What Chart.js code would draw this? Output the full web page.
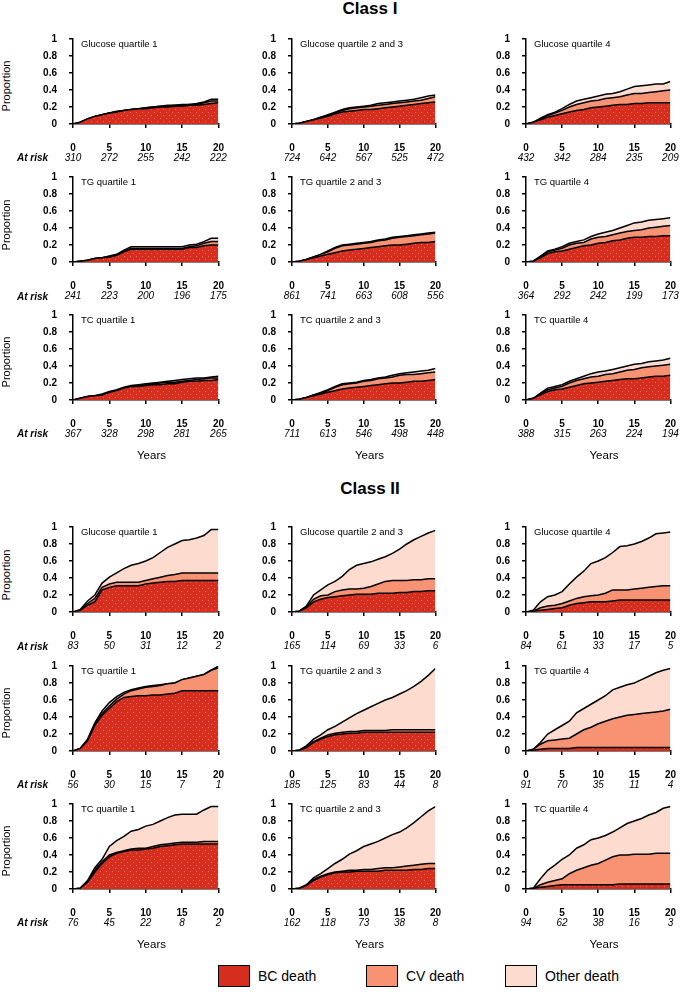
<!DOCTYPE html>
<html>
<head>
<meta charset="utf-8">
<script src="https://cdn.jsdelivr.net/npm/chart.js@4"></script>
<style>
  body { margin: 0; background: #fff; width: 686px; height: 993px; position: relative; overflow: hidden;
         font-family: "Liberation Sans", Arial, sans-serif; color: #000; }
  .txt { position: absolute; white-space: nowrap; }
  canvas { position: absolute; }
  .box { position: absolute; width: 32px; height: 22px; border: 1px solid #000; box-sizing: border-box; }
</style>
</head>
<body>
<script>
// years on the x axis (one step per year)
const years = [0,1,2,3,4,5,6,7,8,9,10,11,12,13,14,15,16,17,18,19,20];
const xTickValues = [0, 5, 10, 15, 20];

const panelTitles = [
  'Glucose quartile 1', 'Glucose quartile 2 and 3', 'Glucose quartile 4',
  'TG quartile 1', 'TG quartile 2 and 3', 'TG quartile 4',
  'TC quartile 1', 'TC quartile 2 and 3', 'TC quartile 4'
];

const legendLabels = ['BC death', 'CV death', 'Other death'];

// numbers at risk under the ticks 0, 5, 10, 15, 20
const classI_atRisk = [
  [310, 272, 255, 242, 222], [724, 642, 567, 525, 472], [432, 342, 284, 235, 209],
  [241, 223, 200, 196, 175], [861, 741, 663, 608, 556], [364, 292, 242, 199, 173],
  [367, 328, 298, 281, 265], [711, 613, 546, 498, 448], [388, 315, 263, 224, 194]
];
const classII_atRisk = [
  [83, 50, 31, 12, 2], [165, 114, 69, 33, 6], [84, 61, 33, 17, 5],
  [56, 30, 15, 7, 1], [185, 125, 83, 44, 8], [91, 70, 35, 11, 4],
  [76, 45, 22, 8, 2], [162, 118, 73, 38, 8], [94, 62, 38, 16, 3]
];

// cumulative proportion, top of the BC band
const classI_BC = [
  [0,0.02,0.06,0.09,0.11,0.13,0.14,0.16,0.17,0.18,0.18,0.19,0.2,0.2,0.21,0.21,0.22,0.22,0.23,0.24,0.25],
  [0,0.01,0.03,0.05,0.07,0.09,0.12,0.14,0.15,0.16,0.17,0.17,0.18,0.19,0.2,0.21,0.22,0.23,0.24,0.25,0.26],
  [0,0.02,0.05,0.08,0.1,0.12,0.14,0.16,0.17,0.19,0.2,0.21,0.22,0.23,0.23,0.24,0.24,0.25,0.25,0.25,0.25],
  [0,0.01,0.02,0.04,0.05,0.06,0.08,0.12,0.15,0.15,0.15,0.15,0.15,0.15,0.15,0.15,0.17,0.17,0.19,0.2,0.2],
  [0,0.01,0.03,0.05,0.07,0.09,0.11,0.13,0.14,0.15,0.16,0.17,0.18,0.19,0.2,0.2,0.21,0.22,0.23,0.23,0.24],
  [0,0.01,0.05,0.1,0.12,0.13,0.15,0.17,0.19,0.2,0.22,0.23,0.25,0.26,0.28,0.29,0.29,0.3,0.3,0.31,0.31],
  [0,0.02,0.04,0.05,0.06,0.09,0.11,0.14,0.16,0.16,0.17,0.18,0.18,0.19,0.19,0.21,0.22,0.22,0.23,0.23,0.24],
  [0,0.01,0.03,0.05,0.07,0.09,0.11,0.13,0.14,0.15,0.16,0.17,0.18,0.19,0.2,0.2,0.21,0.22,0.22,0.23,0.24],
  [0,0.02,0.06,0.1,0.12,0.13,0.15,0.17,0.19,0.2,0.21,0.22,0.23,0.24,0.25,0.25,0.26,0.27,0.28,0.28,0.29]
];
// cumulative proportion, top of the CV band (BC + CV)
const classI_CV = [
  [0,0.02,0.06,0.09,0.11,0.13,0.14,0.16,0.17,0.18,0.19,0.2,0.21,0.21,0.22,0.22,0.23,0.23,0.25,0.27,0.27],
  [0,0.01,0.03,0.05,0.08,0.1,0.13,0.16,0.18,0.19,0.2,0.21,0.22,0.23,0.24,0.25,0.26,0.27,0.28,0.3,0.32],
  [0,0.02,0.06,0.1,0.13,0.16,0.2,0.23,0.25,0.27,0.28,0.3,0.31,0.32,0.34,0.36,0.36,0.37,0.38,0.39,0.4],
  [0,0.01,0.02,0.04,0.05,0.06,0.08,0.13,0.16,0.16,0.16,0.16,0.16,0.16,0.16,0.16,0.18,0.19,0.22,0.24,0.24],
  [0,0.01,0.03,0.06,0.09,0.12,0.16,0.19,0.2,0.21,0.22,0.23,0.25,0.26,0.28,0.29,0.3,0.31,0.32,0.33,0.34],
  [0,0.01,0.06,0.12,0.14,0.16,0.2,0.22,0.23,0.27,0.29,0.3,0.32,0.34,0.36,0.37,0.38,0.4,0.41,0.42,0.43],
  [0,0.02,0.04,0.05,0.06,0.09,0.11,0.14,0.16,0.17,0.18,0.19,0.2,0.21,0.21,0.22,0.23,0.24,0.25,0.26,0.26],
  [0,0.01,0.03,0.06,0.08,0.11,0.15,0.18,0.19,0.2,0.22,0.23,0.25,0.26,0.27,0.29,0.3,0.3,0.31,0.32,0.33],
  [0,0.02,0.07,0.12,0.14,0.16,0.2,0.23,0.25,0.27,0.28,0.3,0.31,0.33,0.35,0.36,0.38,0.39,0.4,0.41,0.42]
];
// cumulative proportion, all deaths
const classI_Other = [
  [0,0.02,0.06,0.09,0.11,0.13,0.15,0.16,0.17,0.18,0.19,0.2,0.21,0.22,0.22,0.23,0.23,0.24,0.26,0.29,0.29],
  [0,0.01,0.03,0.05,0.08,0.11,0.14,0.17,0.19,0.2,0.21,0.22,0.24,0.25,0.26,0.27,0.28,0.29,0.31,0.33,0.34],
  [0,0.02,0.07,0.11,0.14,0.18,0.23,0.27,0.29,0.31,0.33,0.35,0.36,0.38,0.41,0.44,0.45,0.46,0.47,0.47,0.5],
  [0,0.01,0.02,0.04,0.05,0.07,0.09,0.14,0.18,0.18,0.18,0.18,0.18,0.18,0.18,0.18,0.2,0.21,0.24,0.28,0.28],
  [0,0.01,0.03,0.06,0.09,0.13,0.17,0.2,0.21,0.22,0.23,0.24,0.26,0.27,0.29,0.3,0.31,0.32,0.33,0.34,0.35],
  [0,0.01,0.07,0.13,0.15,0.18,0.22,0.24,0.26,0.3,0.33,0.35,0.37,0.4,0.43,0.46,0.47,0.49,0.5,0.51,0.52],
  [0,0.02,0.04,0.05,0.07,0.1,0.12,0.15,0.17,0.18,0.19,0.2,0.21,0.22,0.23,0.24,0.25,0.26,0.26,0.27,0.28],
  [0,0.01,0.03,0.06,0.09,0.12,0.16,0.19,0.2,0.21,0.23,0.24,0.26,0.27,0.29,0.31,0.32,0.33,0.34,0.35,0.37],
  [0,0.02,0.08,0.14,0.16,0.18,0.22,0.25,0.28,0.31,0.33,0.34,0.36,0.38,0.4,0.42,0.43,0.45,0.46,0.47,0.49]
];

const classII_BC = [
  [0,0.02,0.08,0.12,0.26,0.29,0.31,0.31,0.31,0.31,0.33,0.34,0.35,0.36,0.36,0.37,0.37,0.37,0.37,0.37,0.37],
  [0,0.01,0.05,0.12,0.15,0.17,0.18,0.19,0.2,0.21,0.21,0.21,0.22,0.22,0.22,0.23,0.23,0.24,0.24,0.25,0.25],
  [0,0.01,0.02,0.03,0.04,0.05,0.08,0.1,0.11,0.12,0.12,0.12,0.13,0.14,0.14,0.14,0.14,0.14,0.14,0.14,0.14],
  [0,0.03,0.12,0.3,0.42,0.5,0.58,0.63,0.64,0.65,0.65,0.66,0.66,0.67,0.68,0.71,0.71,0.71,0.71,0.71,0.71],
  [0,0.01,0.04,0.1,0.14,0.17,0.19,0.2,0.21,0.21,0.22,0.22,0.22,0.22,0.22,0.22,0.22,0.22,0.22,0.22,0.22],
  [0,0.01,0.02,0.03,0.03,0.03,0.03,0.04,0.04,0.04,0.04,0.04,0.04,0.04,0.04,0.04,0.04,0.04,0.04,0.04,0.04],
  [0,0.01,0.08,0.2,0.3,0.38,0.42,0.44,0.46,0.46,0.47,0.48,0.5,0.51,0.52,0.53,0.53,0.53,0.53,0.53,0.53],
  [0,0.01,0.04,0.1,0.14,0.17,0.19,0.2,0.2,0.21,0.21,0.21,0.21,0.22,0.22,0.22,0.22,0.23,0.23,0.24,0.24],
  [0,0.01,0.02,0.03,0.04,0.05,0.05,0.05,0.05,0.05,0.05,0.05,0.05,0.06,0.06,0.06,0.06,0.06,0.06,0.06,0.06]
];
const classII_CV = [
  [0,0.02,0.1,0.16,0.29,0.33,0.35,0.35,0.35,0.35,0.37,0.39,0.41,0.43,0.44,0.46,0.46,0.46,0.46,0.46,0.46],
  [0,0.01,0.06,0.15,0.19,0.2,0.24,0.26,0.27,0.27,0.28,0.3,0.33,0.36,0.37,0.37,0.37,0.38,0.38,0.39,0.39],
  [0,0.01,0.05,0.07,0.08,0.1,0.13,0.16,0.18,0.19,0.2,0.22,0.26,0.26,0.26,0.27,0.28,0.29,0.3,0.31,0.31],
  [0,0.03,0.13,0.31,0.44,0.53,0.61,0.67,0.71,0.73,0.75,0.76,0.77,0.79,0.8,0.84,0.86,0.88,0.9,0.95,0.98],
  [0,0.01,0.05,0.11,0.15,0.19,0.21,0.22,0.23,0.23,0.24,0.24,0.24,0.24,0.25,0.25,0.25,0.25,0.25,0.25,0.25],
  [0,0.02,0.08,0.12,0.13,0.14,0.15,0.2,0.25,0.28,0.32,0.35,0.38,0.4,0.42,0.43,0.44,0.45,0.46,0.47,0.49],
  [0,0.01,0.09,0.22,0.32,0.4,0.43,0.45,0.47,0.48,0.48,0.5,0.52,0.53,0.54,0.55,0.55,0.55,0.56,0.56,0.56],
  [0,0.01,0.04,0.11,0.15,0.18,0.2,0.21,0.22,0.22,0.23,0.23,0.24,0.25,0.25,0.26,0.27,0.28,0.29,0.3,0.3],
  [0,0.01,0.05,0.08,0.1,0.12,0.18,0.22,0.25,0.28,0.3,0.34,0.38,0.4,0.4,0.41,0.41,0.41,0.42,0.42,0.42]
];
const classII_Other = [
  [0,0.03,0.13,0.2,0.34,0.41,0.46,0.51,0.55,0.57,0.6,0.64,0.7,0.76,0.8,0.84,0.85,0.87,0.9,0.97,0.97],
  [0,0.01,0.07,0.2,0.26,0.32,0.36,0.42,0.5,0.55,0.57,0.59,0.62,0.65,0.69,0.74,0.8,0.85,0.89,0.93,0.96],
  [0,0.02,0.12,0.18,0.2,0.24,0.33,0.41,0.48,0.57,0.6,0.64,0.7,0.77,0.78,0.8,0.83,0.87,0.92,0.93,0.94],
  [0,0.03,0.14,0.33,0.47,0.57,0.64,0.69,0.72,0.74,0.76,0.77,0.78,0.79,0.8,0.84,0.86,0.88,0.9,0.95,1.0],
  [0,0.01,0.06,0.14,0.19,0.25,0.29,0.34,0.39,0.44,0.48,0.52,0.56,0.6,0.63,0.67,0.71,0.76,0.82,0.89,0.97],
  [0,0.02,0.1,0.2,0.25,0.3,0.35,0.45,0.5,0.55,0.6,0.65,0.72,0.75,0.78,0.8,0.84,0.88,0.92,0.95,0.97],
  [0,0.01,0.1,0.25,0.35,0.5,0.57,0.62,0.68,0.7,0.74,0.76,0.8,0.84,0.87,0.88,0.88,0.88,0.93,0.97,0.97],
  [0,0.01,0.05,0.13,0.18,0.24,0.3,0.35,0.41,0.45,0.5,0.53,0.56,0.6,0.64,0.67,0.72,0.78,0.85,0.92,0.97],
  [0,0.01,0.12,0.22,0.28,0.35,0.4,0.48,0.52,0.58,0.6,0.63,0.67,0.72,0.77,0.8,0.83,0.87,0.9,0.95,0.97]
];

// colours
const bcColor = '#d52e1f';
const cvColor = '#f79272';
const otherColor = '#fddccf';
const fontFamily = '"Liberation Sans", Arial, sans-serif';

// page layout: plot area edges in pixels
const colLeft = [73, 292, 526];
const colRight = [230, 447, 682];
const rowTop = [30.7, 169.3, 306.7, 519.3, 657.5, 795.5];
const plotH = 92.5;
const padTop = 10, padRight = 8, yAxisW = 40, xAxisH = 44;

Chart.defaults.font.family = fontFamily;
Chart.defaults.color = '#000';

// red fill with faint white dots, like the print
function makeDotted(color) {
  let c = document.createElement('canvas');
  c.width = 6; c.height = 6;
  let g = c.getContext('2d');
  g.fillStyle = color;
  g.fillRect(0, 0, 6, 6);
  g.fillStyle = 'rgba(255,255,255,0.3)';
  g.fillRect(1, 1, 1, 1);
  g.fillRect(4, 4, 1, 1);
  return g.createPattern(c, 'repeat');
}
const bcFill = makeDotted(bcColor);

// draws panel title and at-risk numbers
const panelExtras = {
  id: 'panelExtras',
  afterDraw(chart, args, opts) {
    const ctx = chart.ctx;
    const area = chart.chartArea;
    const xs = chart.scales.x;
    ctx.save();
    ctx.fillStyle = '#000';
    ctx.font = '9.5px ' + fontFamily;
    ctx.textAlign = 'left';
    ctx.textBaseline = 'middle';
    ctx.fillText(opts.title, area.left + 8, area.top + 5);
    ctx.font = 'italic 10px ' + fontFamily;
    ctx.textAlign = 'center';
    xTickValues.forEach((v, i) => {
      ctx.fillText(String(opts.atRisk[i]), xs.getPixelForValue(v), area.bottom + 34);
    });
    ctx.restore();
  }
};

function addText(text, x, y, css, transform) {
  let d = document.createElement('div');
  d.className = 'txt';
  d.textContent = text;
  d.style.cssText = css;
  d.style.left = x + 'px';
  d.style.top = y + 'px';
  d.style.transform = transform || 'translate(-50%, -50%)';
  document.body.appendChild(d);
}

function points(vals) {
  return years.map((y, i) => ({ x: y, y: vals[i] }));
}

function makePanel(row, col, title, atRisk, bc, cv, other) {
  const plotW = colRight[col] - colLeft[col];
  let canvas = document.createElement('canvas');
  canvas.width = Math.round(plotW + yAxisW + padRight);
  canvas.height = Math.round(padTop + plotH + xAxisH);
  canvas.style.left = (colLeft[col] - yAxisW) + 'px';
  canvas.style.top = (rowTop[row] - padTop) + 'px';
  document.body.appendChild(canvas);

  const line = { borderColor: '#000', borderWidth: 1.5, pointRadius: 0, tension: 0 };
  const axisGrid = { display: true, drawOnChartArea: false, drawTicks: true, tickLength: 4, color: '#000', lineWidth: 1.5 };

  new Chart(canvas, {
    type: 'line',
    data: {
      datasets: [
        Object.assign({ label: legendLabels[0], data: points(bc), fill: 'origin', backgroundColor: bcFill }, line),
        Object.assign({ label: legendLabels[1], data: points(cv), fill: '-1', backgroundColor: cvColor }, line),
        Object.assign({ label: legendLabels[2], data: points(other), fill: '-1', backgroundColor: otherColor }, line)
      ]
    },
    options: {
      responsive: false,
      animation: false,
      events: [],
      layout: { autoPadding: false, padding: { top: padTop, right: padRight, left: 0, bottom: 0 } },
      plugins: {
        legend: { display: false },
        tooltip: { enabled: false },
        panelExtras: { title: title, atRisk: atRisk }
      },
      scales: {
        x: {
          type: 'linear', min: 0, max: 20, z: 1,
          border: { display: true, color: '#000', width: 1.5 },
          grid: axisGrid,
          ticks: { stepSize: 5, padding: 14, maxRotation: 0, font: { size: 10, weight: 'bold' } },
          afterFit: (s) => { s.height = xAxisH; }
        },
        y: {
          min: 0, max: 1, z: 1,
          border: { display: true, color: '#000', width: 1.5 },
          grid: axisGrid,
          ticks: {
            stepSize: 0.2, padding: 12, font: { size: 10, weight: 'bold' },
            callback: (v) => String(Math.round(v * 10) / 10)
          },
          afterFit: (s) => { s.width = yAxisW; }
        }
      }
    },
    plugins: [panelExtras]
  });
}

// two blocks of 3x3 panels
function makeBlock(firstRow, atRiskList, bcList, cvList, otherList) {
  for (let r = 0; r < 3; r++) {
    for (let c = 0; c < 3; c++) {
      let k = r * 3 + c;
      makePanel(firstRow + r, c, panelTitles[k], atRiskList[k], bcList[k], cvList[k], otherList[k]);
    }
    const row = firstRow + r;
    addText('Proportion', 6, rowTop[row] + plotH / 2 + 9, 'font-size:11px;', 'translate(-50%, -50%) rotate(-90deg)');
    addText('At risk', 17, rowTop[row] + plotH + 34, 'font-size:10px;font-style:italic;font-weight:bold;', 'translate(0, -50%)');
  }
  for (let c = 0; c < 3; c++) {
    addText('Years', (colLeft[c] + colRight[c]) / 2, rowTop[firstRow + 2] + plotH + 56, 'font-size:11.5px;');
  }
}

addText('Class I', 370, 9, 'font-size:17px;font-weight:bold;');
addText('Class II', 370, 489, 'font-size:17px;font-weight:bold;');

makeBlock(0, classI_atRisk, classI_BC, classI_CV, classI_Other);
makeBlock(3, classII_atRisk, classII_BC, classII_CV, classII_Other);

// legend along the bottom
const legendX = [218, 366, 505];
const legendFills = [bcColor, cvColor, otherColor];
legendLabels.forEach((lab, i) => {
  let b = document.createElement('div');
  b.className = 'box';
  b.style.left = legendX[i] + 'px';
  b.style.top = '965px';
  b.style.background = legendFills[i];
  document.body.appendChild(b);
  addText(lab, legendX[i] + 40, 976, 'font-size:14px;', 'translate(0, -50%)');
});
</script>
</body>
</html>
